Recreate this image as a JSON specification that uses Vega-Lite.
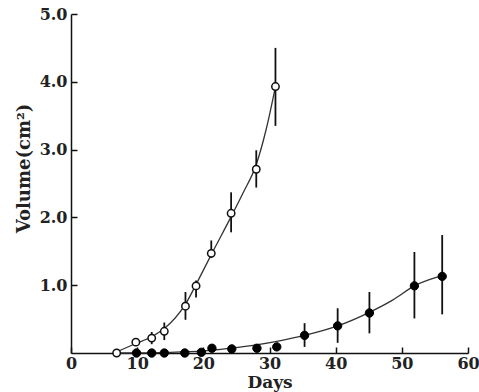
{
  "$schema": "https://vega.github.io/schema/vega-lite/v6.json",
  "autosize": {"type": "none"},
  "width": 397,
  "height": 339,
  "padding": {"left": 71, "top": 14, "right": 11, "bottom": 39},
  "background": "white",
  "config": {
    "view": {"stroke": null},
    "font": "DejaVu Serif",
    "axis": {
      "grid": false,
      "domainColor": "#111",
      "domainWidth": 1.5,
      "tickColor": "#111",
      "tickWidth": 1.5,
      "labelFont": "DejaVu Serif",
      "labelFontWeight": "bold",
      "labelFontSize": 16,
      "labelColor": "#222",
      "titleFont": "DejaVu Serif",
      "titleFontWeight": "bold",
      "titleFontSize": 18,
      "titleColor": "#222"
    }
  },
  "datasets": {
    "curves": [
      {"group": "open", "day": 6.5, "volume": 0.0},
      {"group": "open", "day": 9.8, "volume": 0.14},
      {"group": "open", "day": 12.2, "volume": 0.24},
      {"group": "open", "day": 14.1, "volume": 0.36},
      {"group": "open", "day": 17.3, "volume": 0.72},
      {"group": "open", "day": 19.0, "volume": 1.03},
      {"group": "open", "day": 21.3, "volume": 1.47},
      {"group": "open", "day": 24.3, "volume": 2.03},
      {"group": "open", "day": 26.0, "volume": 2.36},
      {"group": "open", "day": 28.0, "volume": 2.78},
      {"group": "open", "day": 29.5, "volume": 3.3},
      {"group": "open", "day": 30.9, "volume": 3.93},
      {"group": "filled", "day": 6.5, "volume": 0.0},
      {"group": "filled", "day": 15.0, "volume": 0.01},
      {"group": "filled", "day": 20.0, "volume": 0.03},
      {"group": "filled", "day": 24.0, "volume": 0.07},
      {"group": "filled", "day": 28.0, "volume": 0.12},
      {"group": "filled", "day": 31.5, "volume": 0.18},
      {"group": "filled", "day": 35.3, "volume": 0.26},
      {"group": "filled", "day": 40.3, "volume": 0.4},
      {"group": "filled", "day": 45.1, "volume": 0.6},
      {"group": "filled", "day": 48.6, "volume": 0.78},
      {"group": "filled", "day": 51.9, "volume": 0.99},
      {"group": "filled", "day": 56.1, "volume": 1.14}
    ],
    "open": [
      {"day": 6.9, "volume": 0.0},
      {"day": 9.8, "volume": 0.16},
      {"day": 12.2, "volume": 0.22},
      {"day": 14.1, "volume": 0.32},
      {"day": 17.3, "volume": 0.69},
      {"day": 18.9, "volume": 0.99},
      {"day": 21.2, "volume": 1.47},
      {"day": 24.2, "volume": 2.06},
      {"day": 28.0, "volume": 2.71},
      {"day": 30.9, "volume": 3.93}
    ],
    "filled": [
      {"day": 9.9, "volume": 0.0},
      {"day": 12.2, "volume": 0.0},
      {"day": 14.1, "volume": 0.0},
      {"day": 17.2, "volume": 0.0},
      {"day": 19.7, "volume": 0.01},
      {"day": 21.3, "volume": 0.07},
      {"day": 24.3, "volume": 0.06},
      {"day": 28.1, "volume": 0.07},
      {"day": 31.1, "volume": 0.09},
      {"day": 35.3, "volume": 0.26},
      {"day": 40.3, "volume": 0.4},
      {"day": 45.1, "volume": 0.59},
      {"day": 51.9, "volume": 0.99},
      {"day": 56.1, "volume": 1.13}
    ],
    "errors": [
      {"day": 12.2, "low": 0.13, "high": 0.31},
      {"day": 14.1, "low": 0.19, "high": 0.45},
      {"day": 17.3, "low": 0.49, "high": 0.9},
      {"day": 18.9, "low": 0.82, "high": 1.07},
      {"day": 21.2, "low": 1.4, "high": 1.66},
      {"day": 24.2, "low": 1.78, "high": 2.37},
      {"day": 28.0, "low": 2.44, "high": 2.99},
      {"day": 30.9, "low": 3.35, "high": 4.5},
      {"day": 35.3, "low": 0.09, "high": 0.44},
      {"day": 40.3, "low": 0.15, "high": 0.66},
      {"day": 45.1, "low": 0.29, "high": 0.9},
      {"day": 51.9, "low": 0.51, "high": 1.49},
      {"day": 56.1, "low": 0.57, "high": 1.74}
    ]
  },
  "encoding": {
    "x": {
      "field": "day",
      "type": "quantitative",
      "scale": {"domain": [0, 60], "nice": false, "zero": false},
      "axis": {
        "title": "Days",
        "titleFontSize": 17,
        "values": [0, 10, 20, 30, 40, 50, 60],
        "tickSize": -6,
        "labelPadding": 8,
        "titlePadding": 3,
        "labelFlush": false
      }
    },
    "y": {
      "field": "volume",
      "type": "quantitative",
      "scale": {"domain": [0, 5], "nice": false},
      "axis": {
        "title": "Volume(cm²)",
        "values": [1, 2, 3, 4, 5],
        "format": ".1f",
        "tickSize": -6,
        "labelPadding": 10,
        "titlePadding": 6,
        "titleY": 154,
        "labelFlush": false
      }
    }
  },
  "layer": [
    {
      "data": {"name": "curves"},
      "mark": {"type": "line", "interpolate": "monotone", "color": "#333", "strokeWidth": 1.3},
      "encoding": {"detail": {"field": "group"}}
    },
    {
      "data": {"name": "errors"},
      "mark": {"type": "rule", "color": "#111", "strokeWidth": 1.8},
      "encoding": {
        "y": {"field": "low", "type": "quantitative"},
        "y2": {"field": "high"}
      }
    },
    {
      "data": {"name": "filled"},
      "mark": {"type": "point", "shape": "circle", "filled": true, "fill": "#000", "stroke": "#000", "strokeWidth": 1, "size": 70, "opacity": 1}
    },
    {
      "data": {"name": "open"},
      "mark": {"type": "point", "shape": "circle", "filled": true, "fill": "white", "stroke": "#111", "strokeWidth": 1.5, "size": 55, "opacity": 1}
    }
  ]
}
